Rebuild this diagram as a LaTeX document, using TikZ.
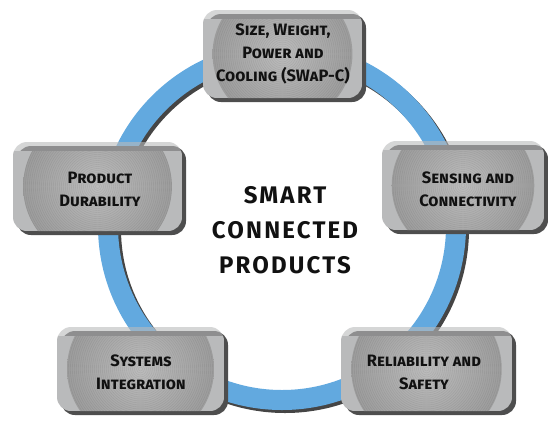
\documentclass[tikz,border=0pt]{standalone}
\usepackage{fontspec}
\usepackage{xcolor}
\usepackage{tikz}
\setmainfont{Fira Sans}
\newfontfamily\cardfont[Letters=SmallCaps]{Fira Sans}
\newfontfamily\hubfont[LetterSpace=9]{Fira Sans}
\definecolor{ringBlue}{HTML}{62A9DF}
\definecolor{ringDark}{HTML}{454545}
\definecolor{cardGray}{HTML}{B9BABB}
\definecolor{cardShadow}{HTML}{4E4E4E}
\definecolor{cardInner}{HTML}{BCBCBC}
\definecolor{cardEdge}{HTML}{9C9C9C}
\definecolor{ink}{HTML}{111111}
\tikzset{
  ringBand/.style={draw=ringBlue, line width=20pt},
  ringShade/.style={draw=ringDark, line width=20pt},
  cardBack/.style={fill=cardShadow, rounded corners=14pt},
  cardClip/.style={rounded corners=14pt},
  cardLine/.style={draw=black, line width=0.4pt, opacity=0.08},
  cardText/.style={text=ink, font=\cardfont\bfseries\fontsize{16.5}{23}\selectfont, align=center},
  hubText/.style={text=ink, font=\hubfont\bfseries\fontsize{24}{35}\selectfont, align=center}
}
% rounded grey card with rings, from (x1,y1) to (x2,y2)
\newcommand{\card}[4]{%
  \pgfmathsetmacro\cardX{(#1+#3)/2}
  \pgfmathsetmacro\cardY{(#2+#4)/2}
  \pgfmathsetmacro\cardR{0.44*(#3-#1)}
  \fill[cardBack] (#1+4,#2+4) rectangle (#3+4,#4+4);
  \begin{scope}
    \clip[cardClip] (#1,#2) rectangle (#3,#4);
    \fill[cardGray, opacity=0.6] (#1,#2) rectangle (#3,#2+9);
    \clip (#1,#2+9) rectangle (#3,#4);
    \fill[cardGray] (#1,#2) rectangle (#3,#4);
    \shade[inner color=cardInner, outer color=cardEdge] (\cardX,\cardY) circle (\cardR pt);
    \foreach \k in {2,4,...,\cardR}
      \draw[cardLine] (\cardX,\cardY) circle (\k pt);
  \end{scope}}

\begin{document}
\begin{tikzpicture}[x=1pt, y=-1pt]
  \useasboundingbox (0,0) rectangle (548,421);

  \draw[ringShade] (285,229) circle (174pt);
  \draw[ringBand] (282,226) circle (174pt);

  \card{203}{10}{362}{98}
  \card{13}{142}{182}{231}
  \card{382}{141}{544}{230}
  \card{57}{327}{224}{411}
  \card{341}{327}{512}{411}

  \node[cardText] (swapc) at (283,54) {Size, Weight,\\Power and\\Cooling (SWaP-C)};
  \node[cardText] (durability) at (100,189) {Product\\Durability};
  \node[cardText] (sensing) at (468,189) {Sensing and\\Connectivity};
  \node[cardText] (systems) at (141,372) {Systems\\Integration};
  \node[cardText] (safety) at (424,372) {Reliability and\\Safety};

  \node[hubText] (hub) at (285,230) {SMART\\CONNECTED\\PRODUCTS};
\end{tikzpicture}
\end{document}
